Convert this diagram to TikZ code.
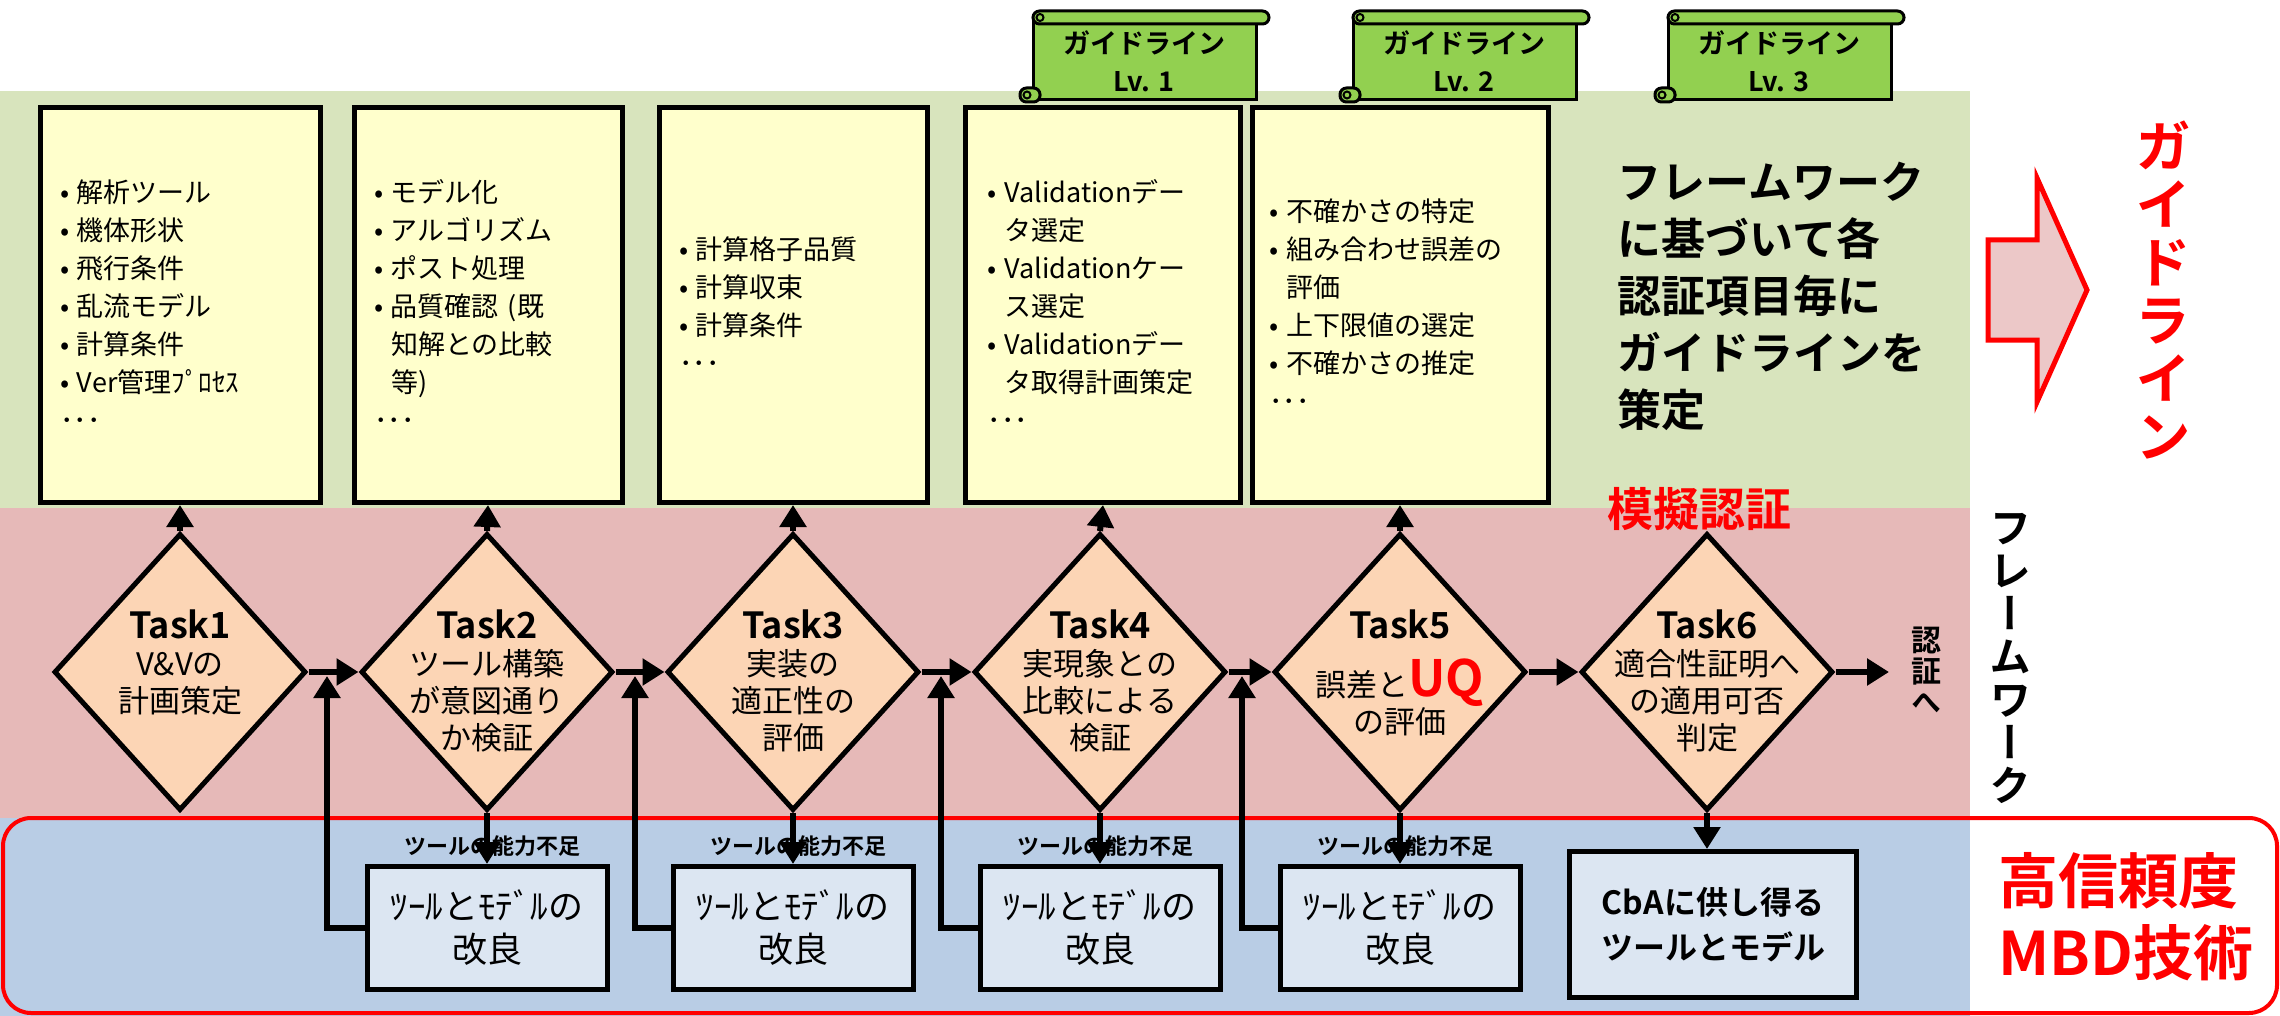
\documentclass[tikz,border=0pt]{standalone}
\usepackage{fontspec}
\setmainfont{Noto Sans CJK JP}[BoldFont={Noto Sans CJK JP Bold}]
\newfontfamily\vertjp{Noto Sans CJK JP}[RawFeature=+vert,BoldFont={Noto Sans CJK JP Bold}]
\usetikzlibrary{shapes.geometric,arrows.meta,positioning}
\definecolor{bandgreen}{RGB}{216,228,189}
\definecolor{bandpink}{RGB}{230,185,184}
\definecolor{bandblue}{RGB}{185,205,229}
\definecolor{noteyellow}{RGB}{255,255,204}
\definecolor{taskorange}{RGB}{252,213,181}
\definecolor{fixblue}{RGB}{220,230,242}
\definecolor{scrollgreen}{RGB}{146,208,80}
\definecolor{arrowpink}{RGB}{236,200,200}
\newcommand{\bulitem}[1]{\makebox[17pt][l]{•}#1}
\newcommand{\bulcont}[1]{\hspace*{17pt}#1}
\newcommand{\taskname}[1]{{\bfseries\fontsize{36}{37}\selectfont #1}}
\tikzset{
    % Define standard node styles
    notebox/.style={
        rectangle, draw=black, line width=5pt, fill=noteyellow,
        minimum height=395pt, align=left, inner sep=0pt,
        font=\fontsize{27}{38}\selectfont
    },
    taskbox/.style={
        diamond, draw=black, line width=5pt, fill=taskorange,
        minimum width=252pt, minimum height=277pt, inner sep=0pt
    },
    tasktext/.style={
        anchor=north, align=center, inner sep=0pt,
        font=\fontsize{31}{37}\selectfont
    },
    fixbox/.style={
        rectangle, draw=black, line width=5pt, fill=fixblue,
        minimum width=240pt, minimum height=123pt, align=center,
        font=\fontsize{35}{43}\selectfont
    },
    shortfall/.style={
        inner sep=0pt, font=\bfseries\fontsize{22}{22}\selectfont
    },
    scrolltext/.style={
        align=center, inner sep=0pt, font=\bfseries\fontsize{27}{38}\selectfont
    },
    vertlabel/.style={
        align=center, inner sep=0pt
    },
    arrow/.style={
        -{Triangle[length=22pt,width=26pt]}, line width=6pt
    },
    guidescroll/.pic={
        \draw[fill=scrollgreen, line width=3pt] (-111,-38) rectangle (112,39);
        \draw[fill=scrollgreen, line width=3pt, rounded corners=6.5pt] (-111,-50) rectangle (125,-37);
        \draw[fill=scrollgreen, line width=2pt] (-104,-43.5) circle (3.5);
        \draw[fill=scrollgreen, line width=3pt, rounded corners=6.5pt] (-124,27) rectangle (-104,41);
        \draw[fill=scrollgreen, line width=2pt] (-117,34) circle (3.5);
    }
}

\begin{document}
\begin{tikzpicture}[x=1pt, y=-1pt]
\useasboundingbox (0,0) rectangle (2280,1016);

% background bands
\fill[bandgreen] (0,91) rectangle (1970,508);
\fill[bandpink] (0,508) rectangle (1970,818);
\fill[bandblue] (0,818) rectangle (1970,1016);
\draw[red, line width=4pt, rounded corners=28pt] (3,818) rectangle (2277,1013);

% guideline scrolls
\pic at (1144,61) {guidescroll};
\node[scrolltext] (g1) at (1144,61) {ガイドライン\\Lv. 1};
\pic at (1464,61) {guidescroll};
\node[scrolltext] (g2) at (1464,61) {ガイドライン\\Lv. 2};
\pic at (1779,61) {guidescroll};
\node[scrolltext] (g3) at (1779,61) {ガイドライン\\Lv. 3};

% check items
\node[notebox, minimum width=280pt, text width=240pt] (n1) at (180,305) {
    \bulitem{解析ツール}\\\bulitem{機体形状}\\\bulitem{飛行条件}\\\bulitem{乱流モデル}\\
    \bulitem{計算条件}\\\bulitem{Ver管理ﾌﾟﾛｾｽ}\\･･･};
\node[notebox, minimum width=268pt, text width=228pt] (n2) at (488,305) {
    \bulitem{モデル化}\\\bulitem{アルゴリズム}\\\bulitem{ポスト処理}\\\bulitem{品質確認 (既}\\
    \bulcont{知解との比較}\\\bulcont{等)}\\･･･};
\node[notebox, minimum width=268pt, text width=228pt] (n3) at (793,305) {
    \bulitem{計算格子品質}\\\bulitem{計算収束}\\\bulitem{計算条件}\\･･･};
\node[notebox, minimum width=275pt, text width=231pt] (n4) at (1103,305) {
    \bulitem{Validationデー}\\\bulcont{タ選定}\\\bulitem{Validationケー}\\\bulcont{ス選定}\\
    \bulitem{Validationデー}\\\bulcont{タ取得計画策定}\\･･･};
\node[notebox, minimum width=296pt, text width=262pt] (n5) at (1400,305) {
    \bulitem{不確かさの特定}\\\bulitem{組み合わせ誤差の}\\\bulcont{評価}\\
    \bulitem{上下限値の選定}\\\bulitem{不確かさの推定}\\･･･};

\node[anchor=west, align=left, font=\bfseries\fontsize{44}{57}\selectfont] (plan) at (1614,296)
    {フレームワーク\\に基づいて各\\認証項目毎に\\ガイドラインを\\策定};

% tasks
\node[taskbox] (t1) at (180,672) {};
\node[taskbox] (t2) at (487,672) {};
\node[taskbox] (t3) at (793,672) {};
\node[taskbox] (t4) at (1100,672) {};
\node[taskbox] (t5) at (1400,672) {};
\node[taskbox] (t6) at (1707,672) {};
\node[tasktext] (t1txt) at ([yshift=62pt]t1.center) {\taskname{Task1}\\V\&Vの\\計画策定};
\node[tasktext] (t2txt) at ([yshift=62pt]t2.center) {\taskname{Task2}\\ツール構築\\が意図通り\\か検証};
\node[tasktext] (t3txt) at ([yshift=62pt]t3.center) {\taskname{Task3}\\実装の\\適正性の\\評価};
\node[tasktext] (t4txt) at ([yshift=62pt]t4.center) {\taskname{Task4}\\実現象との\\比較による\\検証};
\node[tasktext] (t5txt) at ([yshift=62pt]t5.center) {\taskname{Task5}\\[18pt]誤差と{\color{red}\bfseries\fontsize{50}{50}\selectfont UQ}\\の評価};
\node[tasktext] (t6txt) at ([yshift=62pt]t6.center) {\taskname{Task6}\\適合性証明へ\\の適用可否\\判定};
\node[text=red, font=\bfseries\fontsize{46}{46}\selectfont] (mock) at (1699,509) {模擬認証};

% improvement boxes
\node[fixbox, below=51pt of t2] (f2) {ﾂｰﾙとﾓﾃﾞﾙの\\改良};
\node[fixbox, below=51pt of t3] (f3) {ﾂｰﾙとﾓﾃﾞﾙの\\改良};
\node[fixbox, below=51pt of t4] (f4) {ﾂｰﾙとﾓﾃﾞﾙの\\改良};
\node[fixbox, below=51pt of t5] (f5) {ﾂｰﾙとﾓﾃﾞﾙの\\改良};
\node[fixbox, minimum width=287pt, minimum height=146pt, font=\bfseries\fontsize{32}{45}\selectfont,
    below=36pt of t6, xshift=6pt] (f6) {CbAに供し得る\\ツールとモデル};
\node[shortfall, above=7pt of f2, xshift=5pt] (s2) {ツールの能力不足};
\node[shortfall, above=7pt of f3, xshift=5pt] (s3) {ツールの能力不足};
\node[shortfall, above=7pt of f4, xshift=5pt] (s4) {ツールの能力不足};
\node[shortfall, above=7pt of f5, xshift=5pt] (s5) {ツールの能力不足};

% connectors
\coordinate (j2) at (327,676);
\coordinate (j3) at (635,676);
\coordinate (j4) at (941,676);
\coordinate (j5) at (1242,676);
\coordinate (cert) at (1889,672);
\draw[arrow] (t1.north) -- (n1.south);
\draw[arrow] (t2.north) -- (n2.south);
\draw[arrow] (t3.north) -- (n3.south);
\draw[arrow] (t4.north) -- (n4.south);
\draw[arrow] (t5.north) -- (n5.south);
\draw[arrow] (t1.east) -- (t2.west);
\draw[arrow] (t2.east) -- (t3.west);
\draw[arrow] (t3.east) -- (t4.west);
\draw[arrow] (t4.east) -- (t5.west);
\draw[arrow] (t5.east) -- (t6.west);
\draw[arrow] (t6.east) -- (cert);
\draw[arrow] (t2.south) -- (f2.north);
\draw[arrow] (t3.south) -- (f3.north);
\draw[arrow] (t4.south) -- (f4.north);
\draw[arrow] (t5.south) -- (f5.north);
\draw[arrow] (t6.south) -- (t6.south |- f6.north);
\draw[arrow] (f2.west) -| (j2);
\draw[arrow] (f3.west) -| (j3);
\draw[arrow] (f4.west) -| (j4);
\draw[arrow] (f5.west) -| (j5);

% right side
\node[vertlabel, font=\vertjp\bfseries\fontsize{30}{31}\selectfont] (certv) at (1926,670) {認\\証\\へ};
\draw[draw=red, fill=arrowpink, line width=5pt] (1988,240) -- (2037,240) -- (2037,178) -- (2087,290)
    -- (2037,402) -- (2037,340) -- (1988,340) -- cycle;
\node[vertlabel, text=red, font=\vertjp\bfseries\fontsize{56}{58}\selectfont] (guidev) at (2163,290)
    {ガ\\イ\\ド\\ラ\\イ\\ン};
\node[vertlabel, font=\vertjp\bfseries\fontsize{42}{43}\selectfont] (framev) at (2010,658)
    {フ\\レ\\ー\\ム\\ワ\\ー\\ク};
\node[anchor=west, align=left, text=red, font=\bfseries\fontsize{60}{72}\selectfont] (mbd) at (1995,917)
    {高信頼度\\MBD技術};

\end{tikzpicture}
\end{document}
